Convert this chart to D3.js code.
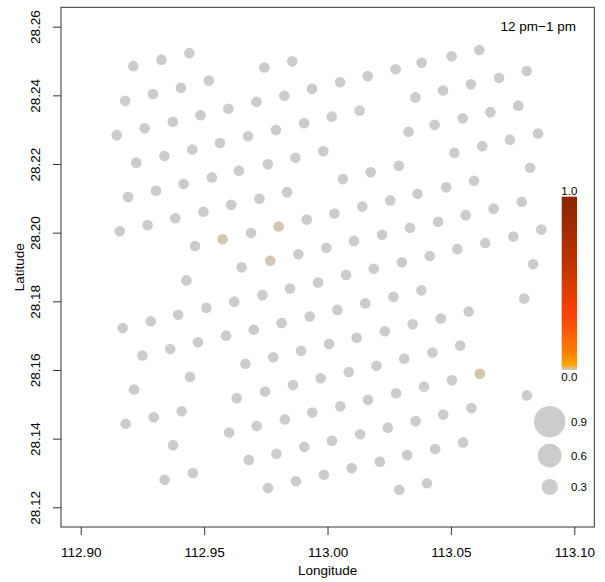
<!DOCTYPE html>
<html>
<head>
<meta charset="utf-8">
<script src="https://cdn.jsdelivr.net/npm/d3@7"></script>
<style>
body { margin: 0; background: #fff; }
text { font-family: "Liberation Sans", Arial, sans-serif; fill: #000; }
</style>
</head>
<body>
<svg id="chart" width="605" height="582"></svg>
<script>

// station positions (longitude / latitude) and hourly value
var stationLon = [
	112.9213,112.9327,112.9440,112.9519,112.9406,112.9293,112.9180,112.9598,112.9485,112.9373,
	112.9259,112.9146,112.9564,112.9452,112.9339,112.9225,112.9641,112.9531,112.9417,112.9305,
	112.9192,112.9610,112.9497,112.9383,112.9271,112.9158,112.9575,112.9463,112.9652,112.9744,
	112.9857,112.9712,112.9825,112.9937,113.0051,113.0163,113.0276,113.0381,113.0356,113.0130,
	113.0017,112.9905,112.9791,112.9678,113.0328,112.9983,112.9870,112.9758,113.0062,113.0175,
	113.0289,112.9836,112.9724,113.0365,113.0254,113.0141,113.0028,112.9916,112.9802,112.9690,
	113.0334,113.0221,113.0107,112.9995,112.9882,112.9768,113.0301,113.0187,113.0503,113.0615,
	113.0807,113.0695,113.0581,113.0468,113.0773,113.0660,113.0548,113.0434,113.0853,113.0739,
	113.0627,113.0514,113.0821,113.0594,113.0481,113.0787,113.0673,113.0560,113.0448,113.0866,
	113.0753,113.0639,113.0526,113.0414,113.0833,112.9428,112.9622,112.9509,112.9395,112.9284,
	112.9170,112.9589,112.9475,112.9363,112.9250,112.9443,112.9216,112.9632,112.9409,112.9296,
	112.9182,112.9601,112.9374,112.9454,112.9340,113.0075,112.9736,112.9848,112.9962,113.0267,
	113.0153,113.0040,112.9928,112.9814,112.9701,113.0345,113.0232,113.0118,113.0006,112.9893,
	112.9780,112.9667,113.0311,113.0198,113.0086,112.9972,112.9860,112.9747,113.0278,113.0164,
	113.0052,112.9938,112.9827,112.9713,113.0357,113.0244,113.0132,113.0018,112.9906,112.9793,
	112.9681,113.0323,113.0212,113.0098,112.9985,112.9872,112.9759,113.0291,113.0380,113.0797,
	113.0572,113.0459,113.0538,113.0425,113.0617,113.0504,113.0391,113.0808,113.0583,113.0469,
	113.0549,113.0436,113.0403
];

var stationLat = [
	28.2485,28.2504,28.2523,28.2443,28.2422,28.2404,28.2384,28.2361,28.2342,28.2323,
	28.2304,28.2284,28.2261,28.2242,28.2223,28.2204,28.2180,28.2161,28.2142,28.2122,
	28.2104,28.2081,28.2061,28.2042,28.2022,28.2004,28.1981,28.1961,28.1899,28.2481,
	28.2499,28.2381,28.2399,28.2419,28.2438,28.2456,28.2476,28.2495,28.2394,28.2356,
	28.2338,28.2319,28.2299,28.2281,28.2294,28.2237,28.2218,28.2199,28.2156,28.2176,
	28.2195,28.2118,28.2099,28.2113,28.2094,28.2076,28.2056,28.2038,28.2018,28.1999,
	28.2014,28.1994,28.1976,28.1956,28.1937,28.1918,28.1914,28.1895,28.2514,28.2532,
	28.2471,28.2451,28.2432,28.2414,28.2370,28.2351,28.2333,28.2314,28.2289,28.2271,
	28.2252,28.2233,28.2189,28.2151,28.2132,28.2090,28.2070,28.2051,28.2032,28.2009,
	28.1989,28.1970,28.1952,28.1932,28.1908,28.1861,28.1799,28.1781,28.1761,28.1742,
	28.1722,28.1700,28.1681,28.1661,28.1642,28.1580,28.1543,28.1518,28.1480,28.1462,
	28.1443,28.1418,28.1381,28.1300,28.1280,28.1877,28.1818,28.1837,28.1855,28.1813,
	28.1794,28.1775,28.1756,28.1737,28.1717,28.1733,28.1713,28.1694,28.1676,28.1656,
	28.1637,28.1618,28.1633,28.1612,28.1594,28.1576,28.1556,28.1537,28.1532,28.1513,
	28.1494,28.1476,28.1456,28.1437,28.1451,28.1432,28.1413,28.1394,28.1376,28.1356,
	28.1338,28.1352,28.1333,28.1314,28.1295,28.1276,28.1256,28.1251,28.1832,28.1808,
	28.1770,28.1750,28.1671,28.1651,28.1589,28.1570,28.1551,28.1526,28.1489,28.1470,
	28.1389,28.1370,28.1270
];

var stationValue = [
	0,0,0,0,0,0,0,0,0,0,
	0,0,0,0,0,0,0,0,0,0,
	0,0,0,0,0,0,0.004,0,0,0,
	0,0,0,0,0,0,0,0,0,0,
	0,0,0,0,0,0,0,0,0,0,
	0,0,0,0,0,0,0,0,0.004,0,
	0,0,0,0,0,0.004,0,0,0,0,
	0,0,0,0,0,0,0,0,0,0,
	0,0,0,0,0,0,0,0,0,0,
	0,0,0,0,0,0,0,0,0,0,
	0,0,0,0,0,0,0,0,0,0,
	0,0,0,0,0,0,0,0,0,0,
	0,0,0,0,0,0,0,0,0,0,
	0,0,0,0,0,0,0,0,0,0,
	0,0,0,0,0,0,0,0,0,0,
	0,0,0,0,0,0,0,0,0,0,
	0,0,0,0,0.005,0,0,0,0,0,
	0,0,0
];

var xTicks = [112.90, 112.95, 113.00, 113.05, 113.10];
var yTicks = [28.12, 28.14, 28.16, 28.18, 28.20, 28.22, 28.24, 28.26];
var legendSizes = [0.9, 0.6, 0.3];
var colorbarLabels = [1.0, 0.0];
var panelTitle = "12 pm\u22121 pm";

var svg = d3.select("#chart");

var plot = {left: 61, right: 594.3, top: 7.3, bottom: 527};

var x = d3.scaleLinear().domain([112.8920, 113.1081]).range([plot.left, plot.right]);
var y = d3.scaleLinear().domain([28.11426, 28.26565]).range([plot.bottom, plot.top]);

var colour = d3.scaleLinear()
	.domain([0, 0.03, 0.1, 0.3, 0.65, 1])
	.range(["#cccccc", "#ffa500", "#ff7f00", "#ff4500", "#b83200", "#8b2500"]);

// radius scale, shared by stations and the size legend
var radius = d3.scaleLinear().domain([0, 0.3, 0.9]).range([5.3, 8, 15.7]);

var stationData = [];
for (var i = 0; i < stationLon.length; i++) {
	stationData.push({lon: stationLon[i], lat: stationLat[i], v: stationValue[i]});
}

svg.append("g")
	.attr("id", "stations")
	.selectAll("circle")
	.data(stationData)
	.enter()
	.append("circle")
	.attr("cx", function (d) { return x(d.lon); })
	.attr("cy", function (d) { return y(d.lat); })
	.attr("r", function (d) { return radius(0); })
	.attr("fill", function (d) { return colour(d.v); });

// box
svg.append("rect")
	.attr("x", plot.left)
	.attr("y", plot.top)
	.attr("width", plot.right - plot.left)
	.attr("height", plot.bottom - plot.top)
	.attr("fill", "none")
	.attr("stroke", "#333")
	.attr("stroke-width", 1);

var xAxis = svg.append("g")
	.attr("transform", "translate(0," + plot.bottom + ")")
	.call(d3.axisBottom(x).tickValues(xTicks).tickFormat(d3.format(".2f")).tickSize(8).tickSizeOuter(0).tickPadding(12.4));
xAxis.select(".domain").remove();
xAxis.selectAll("line").attr("stroke", "#333");
xAxis.selectAll("text").attr("font-size", "13.5px").attr("font-family", "Liberation Sans, Arial, sans-serif").attr("fill", "#000");

var yAxis = svg.append("g")
	.attr("transform", "translate(" + plot.left + ",0)")
	.call(d3.axisLeft(y).tickValues(yTicks).tickFormat(d3.format(".2f")).tickSize(8).tickSizeOuter(0));
yAxis.select(".domain").remove();
yAxis.selectAll("line").attr("stroke", "#333");
yAxis.selectAll("text")
	.attr("x", 0)
	.attr("dy", 0)
	.attr("text-anchor", "middle")
	.attr("transform", "translate(-20.7,0) rotate(-90)")
	.attr("font-size", "13.5px")
	.attr("font-family", "Liberation Sans, Arial, sans-serif")
	.attr("fill", "#000");

svg.append("text")
	.attr("x", (plot.left + plot.right) / 2)
	.attr("y", 574.5)
	.attr("text-anchor", "middle")
	.attr("font-size", "13.5px")
	.text("Longitude");

svg.append("text")
	.attr("transform", "translate(24," + ((plot.top + plot.bottom) / 2) + ") rotate(-90)")
	.attr("text-anchor", "middle")
	.attr("font-size", "13.5px")
	.text("Latitude");

svg.append("text")
	.attr("x", 576)
	.attr("y", 30.7)
	.attr("text-anchor", "end")
	.attr("font-size", "13.5px")
	.text(panelTitle);

// colour bar
var bar = {x: 561.7, w: 15.3, top: 196.7, bottom: 370};
var barScale = d3.scaleLinear().domain([0, 1]).range([bar.bottom, bar.top]);

var grad = svg.append("defs").append("linearGradient")
	.attr("id", "barGrad")
	.attr("x1", 0).attr("y1", 1).attr("x2", 0).attr("y2", 0);
grad.selectAll("stop")
	.data(d3.range(0, 1.001, 0.005))
	.enter()
	.append("stop")
	.attr("offset", function (d) { return d; })
	.attr("stop-color", function (d) { return colour(d); });

svg.append("rect")
	.attr("x", bar.x)
	.attr("y", barScale(1))
	.attr("width", bar.w)
	.attr("height", barScale(0) - barScale(1))
	.attr("fill", "url(#barGrad)");

svg.selectAll(".barLabel")
	.data(colorbarLabels)
	.enter()
	.append("text")
	.attr("class", "barLabel")
	.attr("x", bar.x + bar.w / 2)
	.attr("y", function (d) { return d == 1 ? barScale(d) - 2.2 : barScale(d) + 11; })
	.attr("text-anchor", "middle")
	.attr("font-size", "11.5px")
	.text(function (d) { return d.toFixed(1); });

// size legend
var legendY = [421.7, 455.7, 487];
var sizeLegend = svg.append("g").attr("id", "sizeLegend");
sizeLegend.selectAll("circle")
	.data(legendSizes)
	.enter()
	.append("circle")
	.attr("cx", 549.7)
	.attr("cy", function (d, i) { return legendY[i]; })
	.attr("r", function (d) { return radius(d); })
	.attr("fill", "#cccccc");
sizeLegend.selectAll("text")
	.data(legendSizes)
	.enter()
	.append("text")
	.attr("x", 571)
	.attr("y", function (d, i) { return legendY[i]; })
	.attr("dy", "0.35em")
	.attr("font-size", "11.5px")
	.text(function (d) { return d.toFixed(1); });

</script>
</body>
</html>
